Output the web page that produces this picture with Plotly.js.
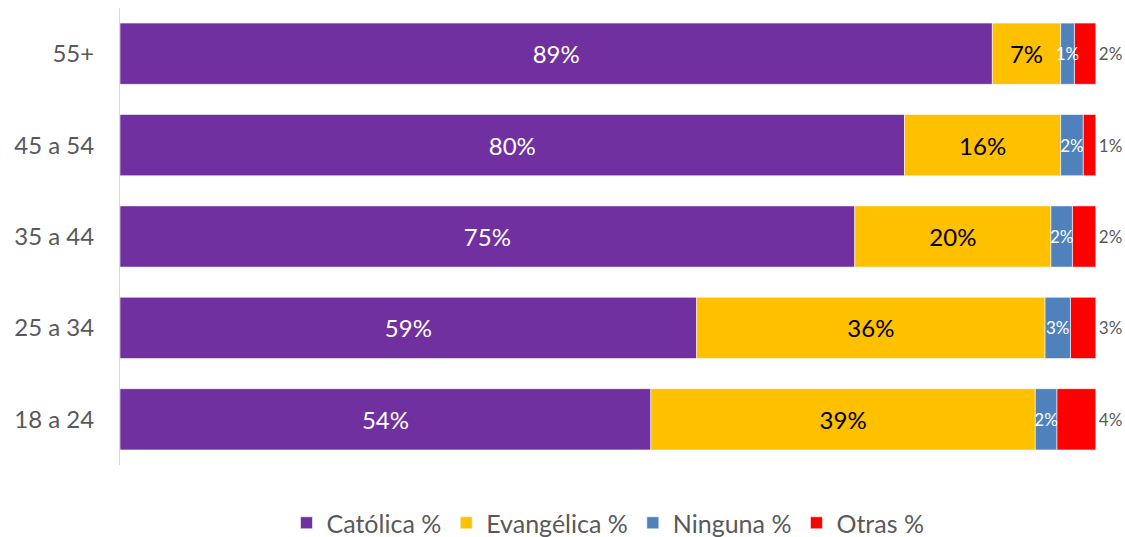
<!DOCTYPE html>
<html>
<head>
<meta charset="utf-8">
<script src="https://cdn.plot.ly/plotly-3.0.1.min.js"></script>
<style>html,body{margin:0;padding:0;background:#fff;}#chart{width:1125px;height:537px;}</style>
</head>
<body>
<div id="chart"></div>
<script>
const ageGroups = ['55+', '45 a 54', '35 a 44', '25 a 34', '18 a 24'];
const catolica  = [89.4, 80.4, 75.3, 59.1, 54.4];
const evangelica = [7.0, 16.0, 20.1, 35.7, 39.4];
const ninguna   = [1.4, 2.3, 2.2, 2.6, 2.2];
const otras     = [2.2, 1.3, 2.4, 2.6, 4.0];
const seriesNames = ['Católica %', 'Evangélica %', 'Ninguna %', 'Otras %'];

const FONT = 'Lato, "Open Sans", sans-serif';
const GRAY = '#595959';

// stacked bases built from the series arrays (so the small labels can be drawn above neighbours)
const baseEvangelica = catolica.map((v, i) => v);
const baseNinguna = catolica.map((v, i) => v + evangelica[i]);
const baseOtras = catolica.map((v, i) => v + evangelica[i] + ninguna[i]);

function series(vals, base, name, rank, color, textColor, textSize, pos) {
  return {
    type: 'bar', orientation: 'h', name: name, legendrank: rank,
    y: ageGroups, x: vals, base: base,
    marker: {color: color, line: {color: 'rgba(255,255,255,0.7)', width: 0.8}},
    texttemplate: '%{x:.0f}%',
    textposition: pos,
    textangle: 0,
    insidetextanchor: 'middle',
    constraintext: 'none',
    cliponaxis: false,
    textfont: {family: FONT, size: textSize, color: textColor},
    hoverinfo: 'none'
  };
}

const data = [
  series(catolica, null, seriesNames[0], 1, '#7030A0', '#FFFFFF', 24, 'inside'),
  series(evangelica, baseEvangelica, seriesNames[1], 2, '#FFC000', '#000000', 24, 'inside'),
  series(otras, baseOtras, seriesNames[3], 4, '#FF0000', GRAY, 17, 'outside'),
  series(ninguna, baseNinguna, seriesNames[2], 3, '#4F81BD', '#FFFFFF', 17, 'inside')
];

const layout = {
  width: 1125, height: 537,
  margin: {l: 120, r: 29, t: 8, b: 72, autoexpand: false},
  barmode: 'overlay',
  bargap: 0.33,
  paper_bgcolor: '#FFFFFF', plot_bgcolor: '#FFFFFF',
  font: {family: FONT, color: GRAY},
  showlegend: true,
  legend: {
    orientation: 'h', x: 0.5, xanchor: 'center', y: -0.127, yanchor: 'middle',
    font: {family: FONT, size: 25, color: GRAY},
    traceorder: 'normal'
  },
  xaxis: {range: [0, 100.02], showgrid: false, zeroline: false, showticklabels: false, showline: false, ticks: ''},
  yaxis: {
    type: 'category', autorange: 'reversed',
    showline: true, linecolor: '#D9D9D9', linewidth: 1,
    ticks: '', ticklabelstandoff: 20,
    tickfont: {family: FONT, size: 24, color: GRAY},
    showgrid: false, zeroline: false
  }
};

Plotly.newPlot('chart', data, layout, {staticPlot: true, displayModeBar: false});
</script>
</body>
</html>
